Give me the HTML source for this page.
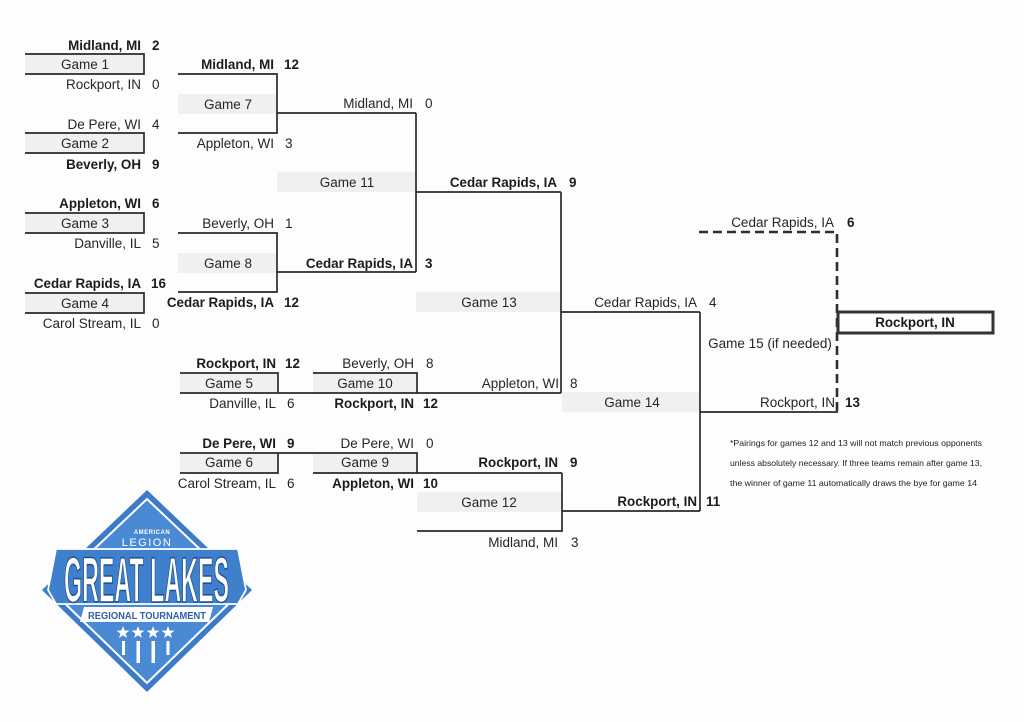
<!DOCTYPE html>
<html>
<head>
<meta charset="utf-8">
<style>
html,body{margin:0;padding:0;background:#fdfdfd;}
svg{display:block;}
text{font-family:"Liberation Sans",Arial,sans-serif;fill:#262626;}
.r{font-size:13.5px;}
.b{font-size:13.4px;font-weight:bold;fill:#1c1c1c;}
.e{text-anchor:end;}
.m{text-anchor:middle;}
.ln{stroke:#2a2a2a;stroke-width:1.7;fill:none;}
.sh{fill:#f0f0f0;}
.note{font-size:8.5px;fill:#222;}
</style>
</head>
<body>
<svg width="1024" height="722" viewBox="0 0 1024 722" xmlns="http://www.w3.org/2000/svg">
<rect width="1024" height="722" fill="#fdfdfd"/>

<!-- shaded game areas -->
<rect class="sh" x="25" y="54" width="119" height="20"/>
<rect class="sh" x="25" y="133" width="119" height="20"/>
<rect class="sh" x="25" y="213" width="119" height="20"/>
<rect class="sh" x="25" y="293" width="119" height="20"/>
<rect class="sh" x="178" y="94" width="99" height="20"/>
<rect class="sh" x="178" y="253" width="99" height="20"/>
<rect class="sh" x="277" y="172" width="139" height="20"/>
<rect class="sh" x="416" y="292" width="145" height="20"/>
<rect class="sh" x="562" y="392" width="138" height="20"/>
<rect class="sh" x="417" y="492" width="145" height="20"/>
<rect class="sh" x="180" y="373" width="98" height="20"/>
<rect class="sh" x="313" y="373" width="104" height="20"/>
<rect class="sh" x="180" y="453" width="98" height="20"/>
<rect class="sh" x="313" y="453" width="104" height="20"/>

<!-- round 1 boxes -->
<path class="ln" d="M25,54 H144 V74 H25"/>
<path class="ln" d="M25,133 H144 V153 H25"/>
<path class="ln" d="M25,213 H144 V233 H25"/>
<path class="ln" d="M25,293 H144 V313 H25"/>

<!-- game 7 / 8 -->
<path class="ln" d="M178,74 H277 V133 H178"/>
<path class="ln" d="M277,113 H416"/>
<path class="ln" d="M178,233 H277 V292 H178"/>
<path class="ln" d="M277,272 H416"/>
<!-- game 11 -->
<path class="ln" d="M416,113 V272"/>
<path class="ln" d="M416,192 H561"/>
<!-- game 13 -->
<path class="ln" d="M561,192 V393"/>
<path class="ln" d="M561,312 H700"/>
<!-- game 5 / 10 -->
<path class="ln" d="M180,373 H278 V393"/>
<path class="ln" d="M313,373 H417 V393"/>
<path class="ln" d="M180,393 H561"/>
<!-- game 6 / 9 -->
<path class="ln" d="M180,453 H417 V473"/>
<path class="ln" d="M278,453 V473 H180"/>
<path class="ln" d="M313,473 H562"/>
<!-- game 12 -->
<path class="ln" d="M562,473 V531 H417"/>
<path class="ln" d="M562,511 H700"/>
<!-- game 14 -->
<path class="ln" d="M700,312 V511"/>
<path class="ln" d="M700,412 H838"/>
<!-- game 15 dashed -->
<path d="M699,232 H837 V412" fill="none" stroke="#2e2e2e" stroke-width="2.6" stroke-dasharray="9,5"/>
<!-- champion box -->
<rect x="838" y="312" width="155" height="21" fill="#fdfdfd" stroke="#333" stroke-width="3"/>

<!-- Round 1 text -->
<text class="b e" x="141" y="50">Midland, MI</text><text class="b" x="152" y="50">2</text>
<text class="r m" x="85" y="69">Game 1</text>
<text class="r e" x="141" y="89">Rockport, IN</text><text class="r" x="152" y="89">0</text>

<text class="r e" x="141" y="129">De Pere, WI</text><text class="r" x="152" y="129">4</text>
<text class="r m" x="85" y="148">Game 2</text>
<text class="b e" x="141" y="169">Beverly, OH</text><text class="b" x="152" y="169">9</text>

<text class="b e" x="141" y="208">Appleton, WI</text><text class="b" x="152" y="208">6</text>
<text class="r m" x="85" y="228">Game 3</text>
<text class="r e" x="141" y="248">Danville, IL</text><text class="r" x="152" y="248">5</text>

<text class="b e" x="141" y="288">Cedar Rapids, IA</text><text class="b" x="151" y="288">16</text>
<text class="r m" x="85" y="308">Game 4</text>
<text class="r e" x="141" y="328">Carol Stream, IL</text><text class="r" x="152" y="328">0</text>

<!-- Round 2 upper -->
<text class="b e" x="274" y="69">Midland, MI</text><text class="b" x="284" y="69">12</text>
<text class="r m" x="228" y="109">Game 7</text>
<text class="r e" x="274" y="148">Appleton, WI</text><text class="r" x="285" y="148">3</text>

<text class="r e" x="274" y="228">Beverly, OH</text><text class="r" x="285" y="228">1</text>
<text class="r m" x="228" y="268">Game 8</text>
<text class="b e" x="274" y="307">Cedar Rapids, IA</text><text class="b" x="284" y="307">12</text>

<!-- Round 2 lower -->
<text class="b e" x="276" y="368">Rockport, IN</text><text class="b" x="285" y="368">12</text>
<text class="r m" x="229" y="388">Game 5</text>
<text class="r e" x="276" y="408">Danville, IL</text><text class="r" x="287" y="408">6</text>

<text class="b e" x="276" y="448">De Pere, WI</text><text class="b" x="287" y="448">9</text>
<text class="r m" x="229" y="467">Game 6</text>
<text class="r e" x="276" y="488">Carol Stream, IL</text><text class="r" x="287" y="488">6</text>

<!-- Game 10 / 9 -->
<text class="r e" x="414" y="368">Beverly, OH</text><text class="r" x="426" y="368">8</text>
<text class="r m" x="365" y="388">Game 10</text>
<text class="b e" x="414" y="408">Rockport, IN</text><text class="b" x="423" y="408">12</text>

<text class="r e" x="414" y="448">De Pere, WI</text><text class="r" x="426" y="448">0</text>
<text class="r m" x="365" y="467">Game 9</text>
<text class="b e" x="414" y="488">Appleton, WI</text><text class="b" x="423" y="488">10</text>

<!-- Column 3 -->
<text class="r e" x="413" y="108">Midland, MI</text><text class="r" x="425" y="108">0</text>
<text class="r m" x="347" y="187">Game 11</text>
<text class="b e" x="413" y="268">Cedar Rapids, IA</text><text class="b" x="425" y="268">3</text>

<!-- Column 4 -->
<text class="b e" x="557" y="187">Cedar Rapids, IA</text><text class="b" x="569" y="187">9</text>
<text class="r m" x="489" y="307">Game 13</text>
<text class="r e" x="559" y="388">Appleton, WI</text><text class="r" x="570" y="388">8</text>
<text class="b e" x="558" y="467">Rockport, IN</text><text class="b" x="570" y="467">9</text>
<text class="r m" x="489" y="507">Game 12</text>
<text class="r e" x="558" y="547">Midland, MI</text><text class="r" x="571" y="547">3</text>

<!-- Column 5 -->
<text class="r e" x="697" y="307">Cedar Rapids, IA</text><text class="r" x="709" y="307">4</text>
<text class="r m" x="632" y="407">Game 14</text>
<text class="b e" x="697" y="506">Rockport, IN</text><text class="b" x="706" y="506">11</text>

<!-- Column 6 -->
<text class="r e" x="834" y="227">Cedar Rapids, IA</text><text class="b" x="847" y="227">6</text>
<text class="r m" x="770" y="348">Game 15 (if needed)</text>
<text class="r e" x="835" y="407">Rockport, IN</text><text class="b" x="845" y="407">13</text>
<text class="b m" x="915" y="327">Rockport, IN</text>

<!-- Note -->
<text class="note" x="730" y="446" textLength="252" lengthAdjust="spacingAndGlyphs">*Pairings for games 12 and 13 will not match previous opponents</text>
<text class="note" x="730" y="466" textLength="252" lengthAdjust="spacingAndGlyphs">unless absolutely necessary. If three teams remain after game 13,</text>
<text class="note" x="730" y="486" textLength="247" lengthAdjust="spacingAndGlyphs">the winner of game 11 automatically draws the bye for game 14</text>

<!-- Logo -->
<g>
  <polygon points="147,490 252,590 147,692 42,590" fill="#3c7bc8"/>
  <polygon points="147,499 243,590 147,683 51,590" fill="#4a8ad4" stroke="#ffffff" stroke-width="2"/>
  <polygon points="48,590 56,549 238,549 246,590 238,604 56,604" fill="#3f80cc" stroke="#ffffff" stroke-width="1.8"/>
  <text x="152" y="534" text-anchor="middle" style="font-size:6px;font-weight:bold;fill:#ffffff;letter-spacing:0.5px">AMERICAN</text>
  <text x="147" y="546" text-anchor="middle" style="font-size:11px;fill:#ffffff;letter-spacing:1.5px">LEGION</text>
  <text x="64" y="602" textLength="165" lengthAdjust="spacingAndGlyphs" style="font-size:64px;font-weight:bold;fill:#ffffff;stroke:#1f4f8f;stroke-width:1.6px">GREAT LAKES</text>
  <polygon points="84,607 213,607 209,622 80,622" fill="#ffffff"/>
  <text x="88" y="619" textLength="118" lengthAdjust="spacingAndGlyphs" style="font-size:10.5px;font-weight:bold;fill:#2b62a8">REGIONAL TOURNAMENT</text>
  <g fill="#ffffff">
    <polygon points="123,626 124.6,630.5 129.5,630.6 125.6,633.5 127,638 123,635.3 119,638 120.4,633.5 116.5,630.6 121.4,630.5"/>
    <polygon points="138,626 139.6,630.5 144.5,630.6 140.6,633.5 142,638 138,635.3 134,638 135.4,633.5 131.5,630.6 136.4,630.5"/>
    <polygon points="153,626 154.6,630.5 159.5,630.6 155.6,633.5 157,638 153,635.3 149,638 150.4,633.5 146.5,630.6 151.4,630.5"/>
    <polygon points="168,626 169.6,630.5 174.5,630.6 170.6,633.5 172,638 168,635.3 164,638 165.4,633.5 161.5,630.6 166.4,630.5"/>
    <rect x="122" y="641" width="3" height="14"/>
    <rect x="136.5" y="641" width="3.5" height="22"/>
    <rect x="151.5" y="641" width="3.5" height="22"/>
    <rect x="166.5" y="641" width="3" height="14"/>
  </g>
</g>
</svg>
</body>
</html>
